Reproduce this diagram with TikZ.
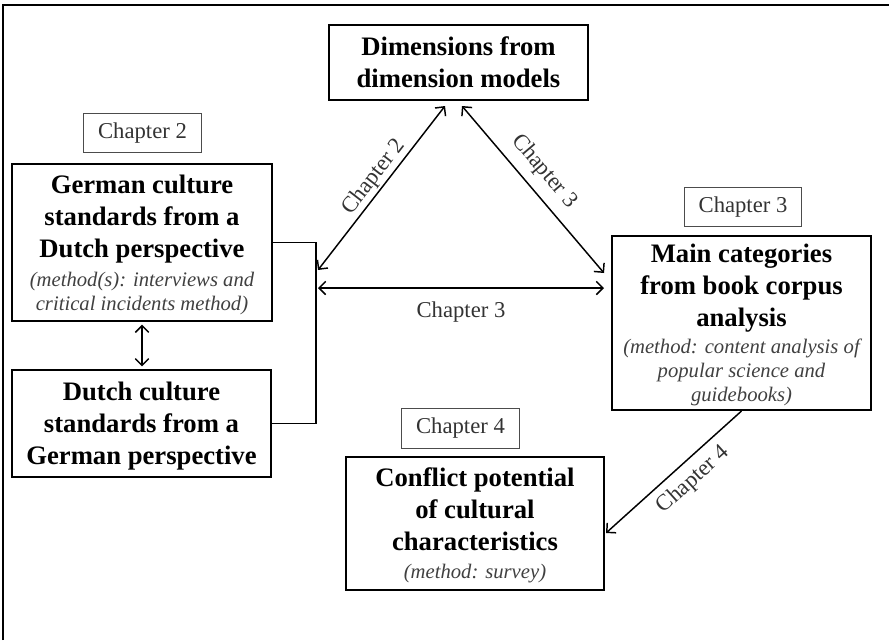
\documentclass[tikz,border=0pt]{standalone}
\usepackage{fontspec}
\setmainfont{Liberation Serif}
\usetikzlibrary{arrows.meta,calc}
\newcommand{\hd}{\fontsize{20}{24}\selectfont\bfseries}
\newcommand{\mt}{\fontsize{15.5}{18}\selectfont\mdseries\itshape\color{black!75}}
\tikzset{box/.style={draw,line width=1.5pt,align=center,inner sep=0pt,text depth=0pt,font=\hd},
 tag/.style={draw=black!70,line width=.8pt,minimum width=88pt,minimum height=29.5pt,inner sep=0pt,font=\fontsize{17}{20}\selectfont,text=black!80},
 flow/.style={{Straight Barb[length=5pt,width=10pt]}-{Straight Barb[length=5pt,width=10pt]},line width=1.1pt},
 wire/.style={line width=1.1pt},
 lab/.style={font=\fontsize{17}{20}\selectfont,text=black!80,sloped,inner sep=1pt}}

\begin{document}
\begin{tikzpicture}[x=.75pt,y=-.75pt]
\useasboundingbox (0,0) rectangle (889,640);
\draw[line width=1.1pt] (3,640) -- (3,5) -- (889,5);
% boxes
\node[box,minimum width=194.25pt,minimum height=56.25pt] (dim) at (458.5,62.5) {Dimensions from\\ dimension models};
\node[tag] (ch2) at (142.5,133) {Chapter 2};
\node[box,minimum width=195pt,minimum height=117.75pt] (german) at (142,242.5) {German culture\\ standards from a\\ Dutch perspective\\[-2.25pt] \mt (method(s): interviews and\\[-6pt] \mt critical incidents method)};
\node[box,minimum width=194.25pt,minimum height=80.25pt] (dutch) at (141.5,423.5) {Dutch culture\\ standards from a\\ German perspective};
\node[tag] (ch3) at (743,207) {Chapter 3};
\node[box,minimum width=194.25pt,minimum height=130.5pt] (main) at (741.5,323) {Main categories\\ from book corpus\\ analysis\\[-3.75pt] \mt (method: content analysis of\\[-6pt] \mt popular science and\\[-6pt] \mt guidebooks)};
\node[tag] (ch4) at (460.5,428.5) {Chapter 4};
\node[box,minimum width=193.5pt,minimum height=99.75pt] (conflict) at (475,523.5) {Conflict potential\\ of cultural\\ characteristics\\[-3pt] \mt (method: survey)};
% arrow ends
\coordinate (gl) at ($(german.east)+(45,27.5)$);
\coordinate (gh) at ($(german.east)+(45,45.5)$);
\coordinate (dl) at ($(dim.south)+(-13.5,5)$);
\coordinate (dr) at ($(dim.south)+(3.5,5)$);
\coordinate (ml) at ($(main.west)+(-7,-50)$);
\coordinate (mh) at ($(main.west)+(-7,-35)$);
\coordinate (ct) at ($(conflict.east)+(1,9.5)$);
% connectors
\draw[wire] (german.east) -- ++(43,0) |- (dutch.east);
\draw[flow,shorten <=2pt,shorten >=2pt] (german.south) -- (german.south |- dutch.north);
\draw[flow] (gl) -- node[lab,above,pos=.52]{Chapter 2} (dl);
\draw[flow] (dr) -- node[lab,above=6pt,pos=.47]{Chapter 3} (ml);
\draw[flow] (gh) -- node[lab,below=9pt]{Chapter 3} (mh);
\draw[wire,{Straight Barb[length=5pt,width=10pt]}-] (ct) -- node[lab,below=5pt,pos=.55]{Chapter 4} (main.south);
\end{tikzpicture}
\end{document}
